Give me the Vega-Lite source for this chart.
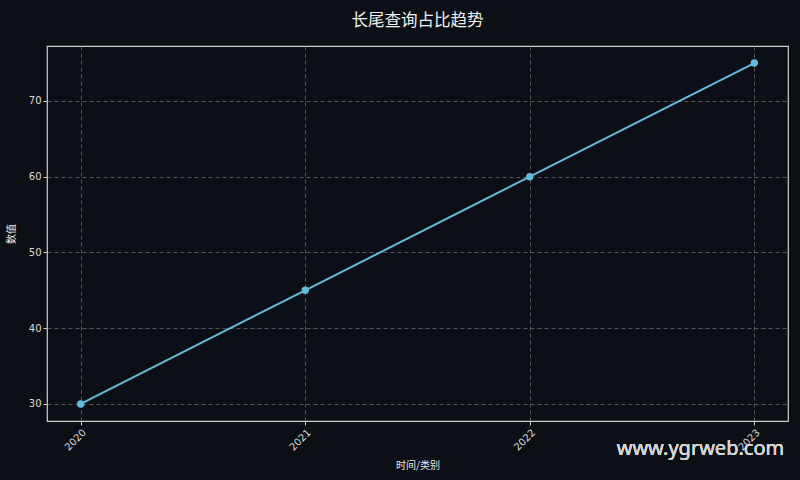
{
  "$schema": "https://vega.github.io/schema/vega-lite/v6.json",
  "autosize": "none",
  "width": 741,
  "height": 375,
  "padding": {"left": 47, "top": 46, "right": 12, "bottom": 59},
  "background": "#0c0f16",
  "title": {
    "text": "长尾查询占比趋势",
    "fontSize": 16.5,
    "fontWeight": "normal",
    "font": "Noto Sans CJK SC",
    "color": "#f0f0f0",
    "anchor": "middle",
    "offset": 17
  },
  "config": {
    "view": {"stroke": "#cfcfcf", "strokeWidth": 1.2},
    "axis": {
      "labelFont": "DejaVu Sans",
      "labelFontSize": 10,
      "labelColor": "#dadada",
      "titleFont": "Noto Sans CJK SC",
      "titleFontSize": 10,
      "titleFontWeight": "normal",
      "titleColor": "#e8e8e8",
      "domain": false,
      "tickColor": "#cfcfcf",
      "tickSize": 4,
      "grid": true,
      "gridColor": "#6a6a6a",
      "gridDash": [4, 3],
      "gridWidth": 0.8
    }
  },
  "data": {
    "values": [
      {"year": 2020, "value": 30},
      {"year": 2021, "value": 45},
      {"year": 2022, "value": 60},
      {"year": 2023, "value": 75}
    ]
  },
  "layer": [
    {
      "mark": {"type": "line", "color": "#62bbdc", "strokeWidth": 2},
      "encoding": {
        "x": {
          "field": "year",
          "type": "quantitative",
          "title": "时间/类别",
          "scale": {"domain": [2019.85, 2023.15], "nice": false, "zero": false},
          "axis": {"values": [2020, 2021, 2022, 2023], "format": "d", "labelAngle": -45, "titlePadding": 8}
        },
        "y": {
          "field": "value",
          "type": "quantitative",
          "title": "数值",
          "scale": {"domain": [27.75, 77.25], "nice": false, "zero": false},
          "axis": {"values": [30, 40, 50, 60, 70], "titlePadding": 12}
        }
      }
    },
    {
      "mark": {"type": "point", "filled": true, "opacity": 1, "color": "#62bbdc", "size": 55},
      "encoding": {
        "x": {"field": "year", "type": "quantitative"},
        "y": {"field": "value", "type": "quantitative"}
      }
    },
    {
      "mark": {"type": "text", "clip": false, "font": "Noto Sans", "fontSize": 20, "color": "#d4d4d4", "align": "center", "baseline": "middle"},
      "encoding": {
        "x": {"datum": 2022.76, "type": "quantitative"},
        "y": {"datum": 24.1, "type": "quantitative"},
        "text": {"value": "www.ygrweb.com"}
      }
    }
  ]
}
